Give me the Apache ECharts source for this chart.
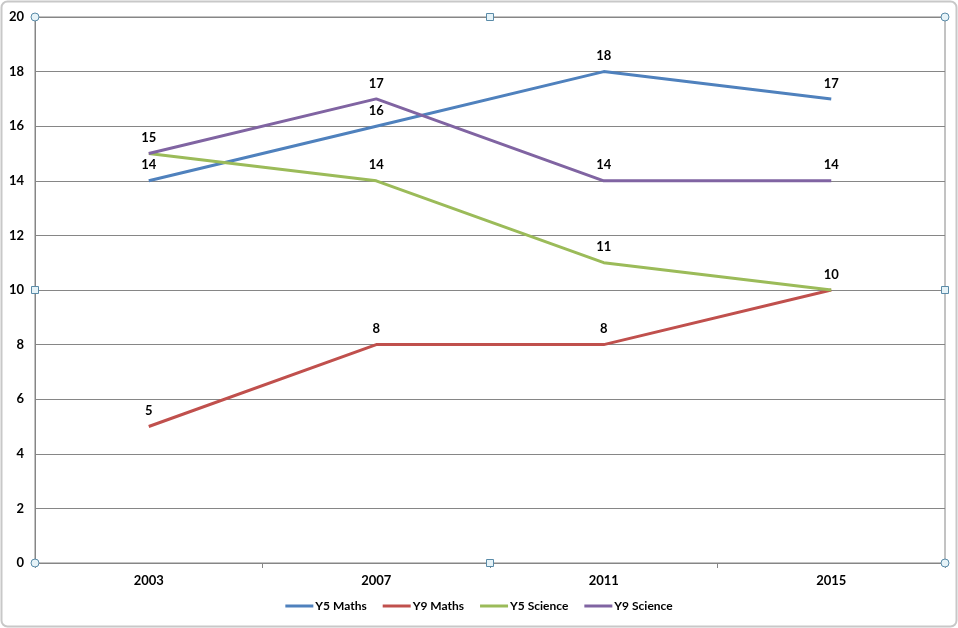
<!DOCTYPE html>
<html lang="en">
<head>
    <meta charset="UTF-8">
    <title>Results</title>
    <script src="https://cdn.jsdelivr.net/npm/echarts@6/dist/echarts.min.js"></script>
    <style>
        html, body { margin: 0; padding: 0; background: #fff; }
        #chart { width: 958px; height: 628px; }
    </style>
</head>
<body>
    <div id="chart"></div>
    <script>
        var years = ['2003', '2007', '2011', '2015']
        var y5Maths = [14, 16, 18, 17]
        var y9Maths = [5, 8, 8, 10]
        var y5Science = [15, 14, 11, 10]
        var y9Science = [15, 17, 14, 14]

        var gridL = 35, gridR = 13, gridT = 17, gridB = 65
        var W = 958, H = 628

        function line(name, data, color) {
            return {
                name: name,
                type: 'line',
                data: data,
                symbol: 'circle',
                symbolSize: 0.01,
                lineStyle: { color: color, width: 3 },
                itemStyle: { color: color },
                labelLayout: { hideOverlap: true },
                label: {
                    show: true,
                    position: 'top',
                    distance: 9,
                    color: '#000',
                    fontWeight: 'bold',
                    fontSize: 13,
                    fontFamily: 'Lato'
                }
            }
        }

        // selection handles round the plot area
        function handles() {
            var x0 = gridL, x1 = W - gridR, y0 = gridT, y1 = H - gridB
            var xm = (x0 + x1) / 2, ym = (y0 + y1) / 2
            var out = []
            ;[[x0, y0], [x1, y0], [x0, y1], [x1, y1]].forEach(p => {
                out.push({ type: 'circle', shape: { cx: p[0], cy: p[1], r: 4 }, style: { fill: '#e6f3f8', stroke: '#5a8ba8', lineWidth: 1 }, z: 10 })
            })
            ;[[xm, y0], [xm, y1], [x0, ym], [x1, ym]].forEach(p => {
                out.push({ type: 'rect', shape: { x: p[0] - 3.5, y: p[1] - 3.5, width: 7, height: 7 }, style: { fill: '#e6f3f8', stroke: '#5a8ba8', lineWidth: 1 }, z: 10 })
            })
            out.push({ type: 'rect', shape: { x: 1.5, y: 1.5, width: W - 3, height: H - 3, r: 6 }, style: { fill: 'none', stroke: '#c8c8c8', lineWidth: 2 }, z: 0 })
            return out
        }

        var chart = echarts.init(document.getElementById('chart'))
        chart.setOption({
            animation: false,
            color: ['#4F81BD', '#C0504D', '#9BBB59', '#8064A2'],
            grid: {
                left: gridL, right: gridR, top: gridT, bottom: gridB,
                show: true, borderColor: '#868686', borderWidth: 1
            },
            legend: {
                bottom: 11,
                left: 'center',
                itemWidth: 28,
                itemHeight: 3,
                itemGap: 16,
                icon: 'rect',
                textStyle: { color: '#000', fontWeight: 'bold', fontSize: 12, fontFamily: 'Lato', padding: [0, 0, 0, -3] },
                data: ['Y5 Maths', 'Y9 Maths', 'Y5 Science', 'Y9 Science']
            },
            xAxis: {
                type: 'category',
                data: years,
                boundaryGap: true,
                axisLine: { lineStyle: { color: '#868686' } },
                axisTick: { show: true, length: 5, lineStyle: { color: '#868686' } },
                axisLabel: { color: '#000', fontWeight: 'bold', fontSize: 13, fontFamily: 'Lato', margin: 11 }
            },
            yAxis: {
                type: 'value',
                min: 0, max: 20, interval: 2,
                axisLine: { show: true, lineStyle: { color: '#868686' } },
                axisTick: { show: false },
                splitLine: { lineStyle: { color: '#868686' } },
                axisLabel: { color: '#000', fontWeight: 'bold', fontSize: 13, fontFamily: 'Lato', margin: 11 }
            },
            graphic: handles(),
            series: [
                line('Y5 Maths', y5Maths, '#4F81BD'),
                line('Y9 Maths', y9Maths, '#C0504D'),
                line('Y5 Science', y5Science, '#9BBB59'),
                line('Y9 Science', y9Science, '#8064A2')
            ]
        })
    </script>
</body>
</html>
